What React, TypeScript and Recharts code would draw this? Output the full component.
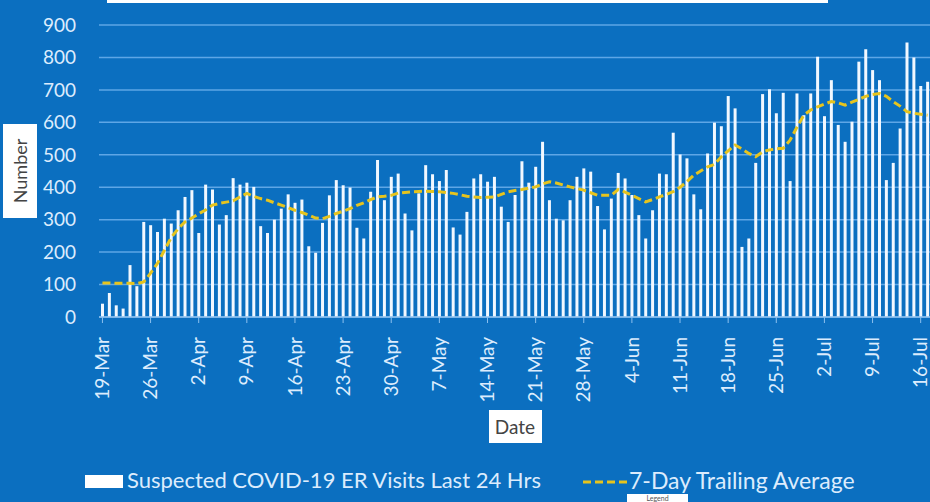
import React from "react";
import { ComposedChart, Bar, Line, XAxis, YAxis, CartesianGrid, Legend } from "recharts";

const monthNames = ["Mar", "Apr", "May", "Jun", "Jul"];
const monthDays = [31, 30, 31, 30, 17];
const firstDay = 19;

// daily suspected COVID-19 ER visits (19-Mar .. 17-Jul)
const visits = [
  41, 74, 36, 26, 160, 95, 293, 283, 262, 303, 288, 329, 370, 391, 259, 408, 393, 285, 314, 428,
  408, 414, 401, 280, 259, 300, 334, 378, 352, 362, 218, 198, 290, 375, 422, 406, 399, 275, 242, 386,
  484, 360, 432, 442, 319, 267, 381, 468, 440, 419, 453, 276, 254, 324, 427, 440, 417, 432, 340, 293,
  376, 480, 414, 463, 540, 360, 303, 298, 360, 432, 458, 448, 342, 270, 365, 444, 427, 376, 314, 242,
  329, 442, 440, 568, 501, 489, 378, 332, 504, 599, 588, 681, 643, 216, 242, 475, 687, 702, 628, 691,
  419, 689, 622, 689, 802, 619, 730, 592, 540, 602, 787, 825, 761, 730, 422, 475, 581, 846, 800, 712, 725,
];

// 7-day trailing average
const trailing = [
  105, 105, 104, 104, 104, 103, 108, 135, 165, 205, 245, 272, 293, 305, 318, 330, 345, 350, 354, 358,
  370, 381, 372, 365, 360, 352, 345, 337, 329, 322, 314, 305, 303, 310, 319, 326, 334, 344, 352, 362,
  370, 372, 375, 382, 384, 386, 387, 388, 387, 386, 384, 381, 377, 372, 370, 368, 369, 370, 378, 386,
  390, 393, 397, 401, 410, 417, 413, 407, 401, 396, 391, 383, 375, 375, 375, 393, 385, 375, 365, 355,
  362, 370, 378, 386, 400, 417, 437, 450, 463, 470, 494, 512, 530, 518, 504, 494, 509, 515, 518, 520,
  545, 585, 622, 638, 648, 656, 664, 660, 653, 662, 671, 680, 686, 689, 680, 664, 650, 633, 628, 625, 622,
];

const yTicks = [0, 100, 200, 300, 400, 500, 600, 700, 800, 900];

const dates: string[] = [];
monthNames.forEach((m, mi) => {
  const start = mi === 0 ? firstDay : 1;
  for (let d = start; d <= monthDays[mi]; d++) dates.push(`${d}-${m}`);
});

const data = dates.map((date, i) => ({ date, visits: visits[i], avg: trailing[i] }));

const BG = "#0b6fc0";
const TEXT = "#dcecfd";
const FONT = "Lato, 'Open Sans', sans-serif";

const DateTick = (props: any) => {
  const { x, y, payload } = props;
  return (
    <g transform={`translate(${x},${y + 12})`}>
      <text transform="rotate(-90)" textAnchor="end" dy="0.35em" fill={TEXT} fontSize={19} fontFamily={FONT}>
        {payload.value}
      </text>
    </g>
  );
};

const YLabel = (props: any) => {
  const cy = props.viewBox.y + props.viewBox.height / 2;
  return (
    <g>
      <rect x={3} y={cy - 47} width={34} height={94} fill="#ffffff" />
      <text transform={`translate(21,${cy}) rotate(-90)`} textAnchor="middle" dy="0.35em" fill="#444" fontSize={18} fontFamily={FONT}>
        Number
      </text>
    </g>
  );
};

const XLabel = (props: any) => {
  const cx = props.viewBox.x + props.viewBox.width / 2;
  return (
    <g>
      <rect x={cx - 26} y={410} width={53} height={33} fill="#ffffff" />
      <text x={cx} y={427} textAnchor="middle" dy="0.35em" fill="#444" fontSize={19} fontFamily={FONT}>
        Date
      </text>
    </g>
  );
};

const renderLegend = () => (
  <div style={{ position: "relative", height: 45, fontFamily: FONT, fontSize: 22, color: TEXT }}>
    <div style={{ position: "absolute", left: 85, top: 18, width: 38, height: 13, background: "#ffffff" }} />
    <div style={{ position: "absolute", left: 127, top: 9, whiteSpace: "nowrap", lineHeight: "28px" }}>Suspected COVID-19 ER Visits Last 24 Hrs</div>
    <svg style={{ position: "absolute", left: 583, top: 20 }} width={46} height={10}>
      <line x1={0} y1={5} x2={46} y2={5} stroke="#e6c41e" strokeWidth={3} strokeDasharray="8 4" />
    </svg>
    <div style={{ position: "absolute", left: 629, top: 9, whiteSpace: "nowrap", fontSize: 23, lineHeight: "28px" }}>7-Day Trailing Average</div>
    <div style={{ position: "absolute", left: 627, top: 37, width: 61, height: 8, background: "#ffffff", color: "#555", fontSize: 7, textAlign: "center", lineHeight: "8px" }}>
      Legend
    </div>
  </div>
);

export default function App() {
  return (
    <div style={{ position: "fixed", left: 0, top: 0, width: 930, height: 502, overflow: "hidden", background: BG }}>
      <div style={{ position: "absolute", left: 107, top: -10, width: 721, height: 13, background: "#ffffff" }} />
      <ComposedChart width={940} height={502} data={data} margin={{ top: 25, right: 9, bottom: 0, left: 0 }}>
        <CartesianGrid vertical={false} stroke="#5ea6e6" strokeWidth={1.5} />
        <XAxis
          dataKey="date"
          interval={6}
          height={140}
          tick={<DateTick />}
          tickLine={{ stroke: "#8cc0ef" }}
          tickSize={6}
          axisLine={{ stroke: "#8cc0ef", strokeWidth: 1.5 }}
          label={<XLabel />}
        />
        <YAxis
          width={99}
          domain={[0, 900]}
          ticks={yTicks}
          axisLine={false}
          tickLine={false}
          tickSize={0}
          tickMargin={23}
          tick={{ fill: TEXT, fontSize: 19, fontFamily: FONT }}
          label={<YLabel />}
        />
        <Legend verticalAlign="bottom" height={45} content={renderLegend} />
        <Bar dataKey="visits" name="Suspected COVID-19 ER Visits Last 24 Hrs" fill="#f2f8ff" barSize={3} isAnimationActive={false} />
        <Line
          dataKey="avg"
          name="7-Day Trailing Average"
          type="linear"
          stroke="#e6c41e"
          strokeWidth={3}
          strokeDasharray="8 4"
          dot={false}
          isAnimationActive={false}
        />
      </ComposedChart>
    </div>
  );
}
